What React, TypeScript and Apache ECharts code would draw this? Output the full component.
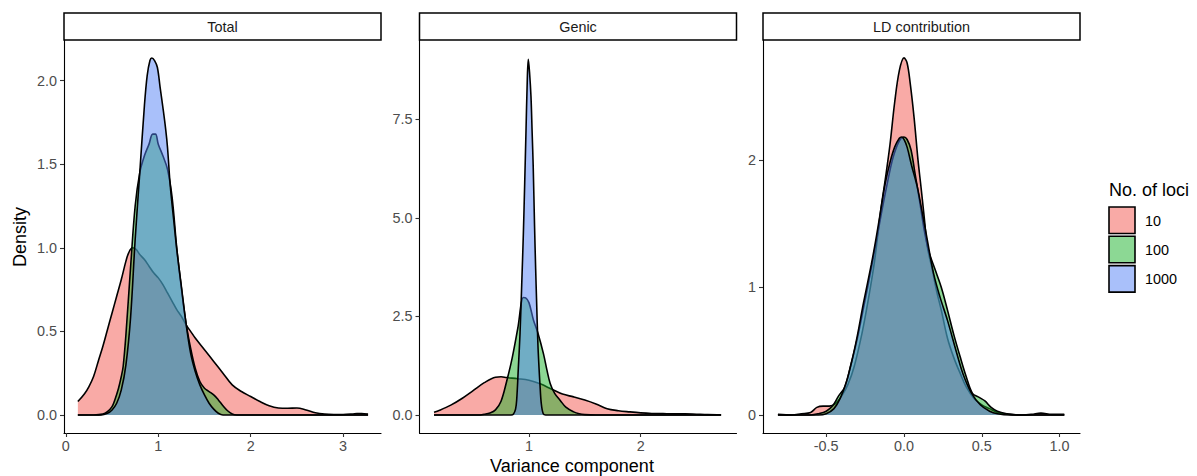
import React, { useEffect, useRef } from "react";
import * as echarts from "echarts";

// Density curves of the variance components, one [x, density] list per number of loci.
const lociLevels = ["10", "100", "1000"];
const panelTitles = ["Total", "Genic", "LD contribution"];

const total10: [number, number][] = [
  [0.13, 0.08], [0.2, 0.125], [0.25, 0.17], [0.3, 0.23], [0.35, 0.32], [0.4, 0.41], [0.45, 0.51],
  [0.5, 0.61], [0.55, 0.71], [0.6, 0.81], [0.65, 0.92], [0.68, 0.97], [0.72, 1.0], [0.76, 0.99],
  [0.8, 0.96], [0.85, 0.93], [0.9, 0.89], [0.95, 0.85], [1.0, 0.82], [1.05, 0.78], [1.1, 0.73],
  [1.15, 0.68], [1.2, 0.63], [1.25, 0.59], [1.3, 0.54], [1.35, 0.5], [1.4, 0.46], [1.5, 0.39],
  [1.6, 0.32], [1.7, 0.25], [1.8, 0.18], [1.9, 0.14], [2.0, 0.11], [2.1, 0.08], [2.2, 0.055],
  [2.3, 0.042], [2.4, 0.04], [2.5, 0.042], [2.6, 0.03], [2.7, 0.013], [2.8, 0.005], [2.9, 0.003],
  [3.0, 0.003], [3.1, 0.006], [3.15, 0.009], [3.2, 0.008], [3.27, 0.006],
];
const total100: [number, number][] = [
  [0.13, 0], [0.3, 0], [0.4, 0.005], [0.45, 0.02], [0.5, 0.05], [0.53, 0.09], [0.57, 0.16],
  [0.6, 0.23], [0.62, 0.29], [0.65, 0.48], [0.7, 0.88], [0.75, 1.25], [0.8, 1.45], [0.85, 1.55],
  [0.9, 1.62], [0.94, 1.68], [0.97, 1.68], [1.0, 1.62], [1.05, 1.55], [1.1, 1.47], [1.15, 1.3],
  [1.2, 1.0], [1.25, 0.76], [1.3, 0.55], [1.35, 0.4], [1.4, 0.28], [1.45, 0.2], [1.5, 0.16],
  [1.55, 0.14], [1.6, 0.12], [1.65, 0.09], [1.7, 0.055], [1.75, 0.025], [1.8, 0.006],
  [1.85, 0], [3.27, 0],
];
const total1000: [number, number][] = [
  [0.13, 0], [0.38, 0], [0.45, 0.01], [0.5, 0.03], [0.55, 0.07], [0.6, 0.15], [0.65, 0.3],
  [0.7, 0.58], [0.75, 1.05], [0.8, 1.45], [0.85, 1.85], [0.88, 2.03], [0.91, 2.12], [0.93, 2.135],
  [0.96, 2.12], [0.99, 2.08], [1.02, 1.96], [1.05, 1.84], [1.08, 1.71], [1.1, 1.6], [1.13, 1.37],
  [1.17, 1.15], [1.2, 0.99], [1.25, 0.77], [1.3, 0.55], [1.35, 0.37], [1.4, 0.26], [1.45, 0.18],
  [1.5, 0.12], [1.55, 0.07], [1.6, 0.035], [1.65, 0.01], [1.7, 0], [3.27, 0],
];

const genic10: [number, number][] = [
  [0.15, 0.07], [0.2, 0.12], [0.3, 0.25], [0.4, 0.42], [0.5, 0.62], [0.6, 0.82], [0.7, 0.96],
  [0.75, 0.97], [0.8, 0.95], [0.9, 0.92], [1.0, 0.88], [1.1, 0.79], [1.2, 0.66], [1.3, 0.53],
  [1.4, 0.46], [1.5, 0.38], [1.6, 0.28], [1.7, 0.16], [1.8, 0.11], [1.9, 0.08], [2.0, 0.055],
  [2.1, 0.04], [2.2, 0.035], [2.3, 0.03], [2.4, 0.03], [2.5, 0.02], [2.6, 0.01], [2.72, 0.005],
];
const genic100: [number, number][] = [
  [0.15, 0], [0.55, 0], [0.6, 0.02], [0.65, 0.05], [0.7, 0.13], [0.75, 0.35], [0.8, 0.85],
  [0.85, 1.45], [0.9, 2.2], [0.95, 2.98], [0.97, 2.97], [1.0, 2.85], [1.04, 2.41], [1.08, 2.08],
  [1.13, 1.55], [1.16, 1.15], [1.19, 0.8], [1.23, 0.55], [1.28, 0.37], [1.33, 0.2], [1.4, 0.08],
  [1.45, 0.03], [1.5, 0.01], [1.6, 0], [2.72, 0],
];
const genic1000: [number, number][] = [
  [0.15, 0], [0.84, 0], [0.86, 0.02], [0.88, 0.15], [0.89, 0.38], [0.905, 1.2], [0.92, 2.07],
  [0.935, 3.3], [0.95, 4.61], [0.962, 5.9], [0.973, 7.15], [0.985, 8.5], [0.994, 9.02],
  [1.005, 8.7], [1.018, 8.08], [1.028, 7.2], [1.038, 6.3], [1.05, 4.8], [1.06, 3.7],
  [1.068, 2.92], [1.08, 1.8], [1.09, 1.2], [1.098, 0.8], [1.11, 0.3], [1.128, 0.03],
  [1.15, 0], [2.72, 0],
];

const ld10: [number, number][] = [
  [-0.81, 0.005], [-0.72, 0], [-0.66, 0.01], [-0.6, 0.02], [-0.56, 0.06], [-0.52, 0.07],
  [-0.48, 0.07], [-0.44, 0.09], [-0.4, 0.15], [-0.36, 0.24], [-0.32, 0.38], [-0.27, 0.64],
  [-0.23, 0.9], [-0.19, 1.2], [-0.15, 1.6], [-0.12, 1.85], [-0.09, 2.12], [-0.06, 2.45],
  [-0.03, 2.7], [0.0, 2.8], [0.02, 2.76], [0.04, 2.6], [0.065, 2.33], [0.09, 2.0], [0.11, 1.78],
  [0.13, 1.55], [0.15, 1.32], [0.18, 1.15], [0.21, 0.97], [0.24, 0.82], [0.28, 0.6],
  [0.32, 0.45], [0.36, 0.33], [0.4, 0.22], [0.45, 0.13], [0.5, 0.08], [0.55, 0.05], [0.6, 0.02],
  [0.68, 0.005], [0.76, 0], [0.82, 0.005], [0.88, 0.015], [0.95, 0.005], [1.03, 0.005],
];
const ld100: [number, number][] = [
  [-0.81, 0], [-0.6, 0], [-0.55, 0.01], [-0.5, 0.03], [-0.46, 0.07], [-0.42, 0.15],
  [-0.38, 0.22], [-0.34, 0.4], [-0.3, 0.6], [-0.26, 0.84], [-0.21, 1.15], [-0.15, 1.55],
  [-0.11, 1.8], [-0.07, 2.02], [-0.03, 2.15], [0.0, 2.18], [0.02, 2.16], [0.045, 2.08],
  [0.07, 1.9], [0.1, 1.68], [0.13, 1.45], [0.16, 1.28], [0.2, 1.14], [0.24, 1.0], [0.28, 0.82],
  [0.32, 0.63], [0.36, 0.46], [0.4, 0.3], [0.44, 0.17], [0.48, 0.14], [0.52, 0.11],
  [0.56, 0.06], [0.6, 0.03], [0.66, 0.01], [0.72, 0], [1.03, 0],
];
const ld1000: [number, number][] = [
  [-0.81, 0], [-0.55, 0], [-0.5, 0.01], [-0.45, 0.05], [-0.41, 0.13], [-0.37, 0.26],
  [-0.33, 0.45], [-0.3, 0.62], [-0.26, 0.88], [-0.21, 1.18], [-0.18, 1.38], [-0.15, 1.6],
  [-0.12, 1.82], [-0.09, 1.98], [-0.06, 2.1], [-0.03, 2.17], [-0.015, 2.18], [0.0, 2.16],
  [0.02, 2.1], [0.05, 1.95], [0.085, 1.79], [0.12, 1.57], [0.15, 1.37], [0.19, 1.11],
  [0.23, 0.93], [0.28, 0.74], [0.34, 0.48], [0.38, 0.32], [0.43, 0.18], [0.49, 0.08],
  [0.55, 0.03], [0.6, 0.01], [0.68, 0], [1.03, 0],
];

const totalXTicks = [0, 1, 2, 3];
const totalYTicks = [0, 0.5, 1, 1.5, 2];
const genicXTicks = [1, 2];
const genicYTicks = [0, 2.5, 5, 7.5];
const ldXTicks = [-0.5, 0, 0.5, 1];
const ldYTicks = [0, 1, 2];

const FILLS = ["#F3554D", "#19B129", "#5381F5"];
const FILL_ALPHA = 0.5;
const FONT = '"Liberation Sans", Arial, Helvetica, sans-serif';

const hexToRgba = (hex: string, a: number) => {
  const n = parseInt(hex.slice(1), 16);
  return `rgba(${(n >> 16) & 255},${(n >> 8) & 255},${n & 255},${a})`;
};

const PLOT_TOP = 40;
const PLOT_HEIGHT = 393;

const panels = [
  {
    title: panelTitles[0], left: 64, width: 317,
    xMin: -0.02, xMax: 3.41, yMin: -0.108, yMax: 2.243,
    xTicks: totalXTicks, yTicks: totalYTicks,
    xFmt: (v: number) => String(v), yFmt: (v: number) => v.toFixed(1),
    curves: [total10, total100, total1000],
  },
  {
    title: panelTitles[1], left: 419.5, width: 317,
    xMin: 0.02, xMax: 2.858, yMin: -0.456, yMax: 9.51,
    xTicks: genicXTicks, yTicks: genicYTicks,
    xFmt: (v: number) => String(v), yFmt: (v: number) => v.toFixed(1),
    curves: [genic10, genic100, genic1000],
  },
  {
    title: panelTitles[2], left: 763, width: 317,
    xMin: -0.906, xMax: 1.131, yMin: -0.141, yMax: 2.94,
    xTicks: ldXTicks, yTicks: ldYTicks,
    xFmt: (v: number) => v.toFixed(1), yFmt: (v: number) => String(v),
    curves: [ld10, ld100, ld1000],
  },
];

export default function App() {
  const ref = useRef<HTMLDivElement>(null);

  useEffect(() => {
    if (!ref.current) return;
    const chart = echarts.init(ref.current, null, { renderer: "svg" });

    const axisLine = { show: true, onZero: false, lineStyle: { color: "#000", width: 1.1 } };
    const axisTick = { show: true, length: 4, lineStyle: { color: "#333", width: 1.1 } };
    const labelStyle = { color: "#4D4D4D", fontSize: 14.4, fontFamily: FONT };

    const grid = panels.map((p) => ({
      left: p.left, top: PLOT_TOP, width: p.width, height: PLOT_HEIGHT,
    }));
    const xAxis = panels.map((p, i) => ({
      type: "value", gridIndex: i, min: p.xMin, max: p.xMax,
      axisLine, splitLine: { show: false },
      axisTick: { ...axisTick, customValues: p.xTicks },
      axisLabel: { ...labelStyle, margin: 6, customValues: p.xTicks, formatter: p.xFmt },
    }));
    const yAxis = panels.map((p, i) => ({
      type: "value", gridIndex: i, min: p.yMin, max: p.yMax,
      axisLine, splitLine: { show: false },
      axisTick: { ...axisTick, customValues: p.yTicks },
      axisLabel: { ...labelStyle, margin: 7, customValues: p.yTicks, formatter: p.yFmt },
    }));

    // Each group is drawn fill-then-outline, later groups covering earlier ones.
    const series: any[] = [];
    panels.forEach((p, i) => {
      p.curves.forEach((curve, k) => {
        series.push({
          type: "line",
          name: lociLevels[k],
          xAxisIndex: i,
          yAxisIndex: i,
          data: curve,
          z: 2 + k,
          symbol: "none",
          showSymbol: false,
          smooth: 0.35,
          silent: true,
          itemStyle: { color: FILLS[k] },
          lineStyle: { color: "#000", width: 1.6 },
          areaStyle: { color: FILLS[k], opacity: FILL_ALPHA, origin: "auto" },
        });
      });
    });

    const graphic: any[] = [];
    panels.forEach((p) => {
      graphic.push({
        type: "rect",
        shape: { x: p.left, y: 13, width: p.width, height: 27 },
        style: { fill: "#fff", stroke: "#000", lineWidth: 1.5 },
      });
      graphic.push({
        type: "text",
        x: p.left + p.width / 2,
        y: 26.5,
        style: {
          text: p.title, fontSize: 14.4, fontFamily: FONT, fill: "#1A1A1A",
          align: "center", verticalAlign: "middle",
        },
      });
    });
    graphic.push({
      type: "text",
      x: 20,
      y: 237,
      rotation: Math.PI / 2,
      style: {
        text: "Density", fontSize: 18, fontFamily: FONT, fill: "#000",
        align: "center", verticalAlign: "middle",
      },
    });
    graphic.push({
      type: "text",
      x: 572,
      y: 466,
      style: {
        text: "Variance component", fontSize: 18, fontFamily: FONT, fill: "#000",
        align: "center", verticalAlign: "middle",
      },
    });

    // Legend for the number of loci
    graphic.push({
      type: "text",
      x: 1109,
      y: 190,
      style: {
        text: "No. of loci", fontSize: 18, fontFamily: FONT, fill: "#000",
        align: "left", verticalAlign: "middle",
      },
    });
    lociLevels.forEach((lvl, k) => {
      const top = 207 + k * 29.3;
      graphic.push({
        type: "rect",
        shape: { x: 1109, y: top, width: 26, height: 26.5 },
        style: { fill: hexToRgba(FILLS[k], FILL_ALPHA), stroke: "#000", lineWidth: 1.6 },
      });
      graphic.push({
        type: "text",
        x: 1145,
        y: top + 13.5,
        style: {
          text: lvl, fontSize: 14.4, fontFamily: FONT, fill: "#000",
          align: "left", verticalAlign: "middle",
        },
      });
    });

    chart.setOption({
      animation: false,
      backgroundColor: "#fff",
      grid,
      xAxis,
      yAxis,
      series,
      graphic,
    });

    return () => chart.dispose();
  }, []);

  return (
    <div
      ref={ref}
      style={{ position: "absolute", left: 0, top: 0, width: 1197, height: 476 }}
    />
  );
}
